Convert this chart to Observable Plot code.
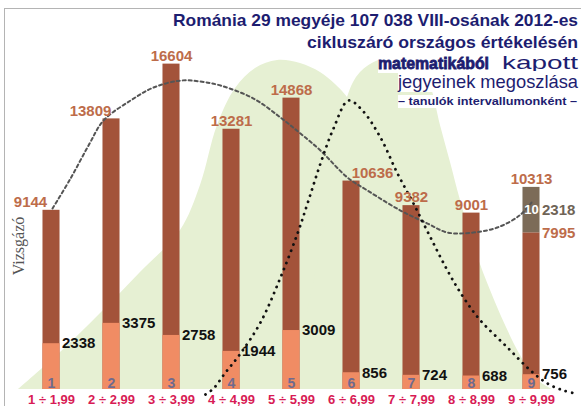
<!DOCTYPE html>
<html>
<head>
<meta charset="utf-8">
<script src="https://cdn.jsdelivr.net/npm/d3@7"></script>
<script src="https://cdn.jsdelivr.net/npm/@observablehq/plot@0.6"></script>
<style>
  html, body { margin: 0; padding: 0; background: #fff; }
  #wrap { position: relative; width: 581px; height: 406px; overflow: hidden; font-family: "Liberation Sans", Arial, sans-serif; }
  #frame { position: absolute; left: 4px; top: 8px; width: 600px; height: 420px; border-top: 1.5px solid #b4b4b4; border-left: 1.5px solid #b4b4b4; pointer-events: none; }
  .t { position: absolute; white-space: nowrap; color: #1d1d70; background: #fff; line-height: 1.15; transform-origin: 0 50%; }
  #ylab { position: absolute; left: 19px; top: 246px; transform: translate(-50%, -50%) rotate(-90deg); font-family: "Liberation Serif", "Times New Roman", serif; font-size: 16px; color: #555; white-space: nowrap; }
</style>
</head>
<body>
<div id="wrap">
  <div id="chart"></div>
  <div id="frame"></div>
  <div id="ylab">Vizsgázó</div>
  <div class="t" data-w="405" style="left:173px; top:10.5px; font-size:17px; font-weight:bold;">Románia 29 megyéje 107 038 VIII-osának 2012-es</div>
  <div class="t" data-w="271" style="left:307px; top:32.5px; font-size:17px; font-weight:bold;">cikluszáró országos értékelésén</div>
  <div class="t" data-w="111" style="left:378px; top:53.5px; font-size:17px; font-weight:900; -webkit-text-stroke:0.8px #1d1d70;">matematikából</div>
  <div class="t" data-w="76" style="left:502px; top:52px; font-size:18.5px;">kapott</div>
  <div class="t" data-w="180" style="left:398px; top:71px; font-size:18.5px;">jegyeinek megoszlása</div>
  <div class="t" data-w="179" style="left:398px; top:95px; font-size:11px; font-weight:bold;">– tanulók intervallumonként –</div>
</div>
<script>
// ---- data ----
const intervals = ["1 ÷ 1,99", "2 ÷ 2,99", "3 ÷ 3,99", "4 ÷ 4,99", "5 ÷ 5,99", "6 ÷ 6,99", "7 ÷ 7,99", "8 ÷ 8,99", "9 ÷ 9,99"];
const barNumbers = ["1", "2", "3", "4", "5", "6", "7", "8", "9"];
const totals = [9144, 13809, 16604, 13281, 14868, 10636, 9382, 9001, 10313];
const lowerValues = [2338, 3375, 2758, 1944, 3009, 856, 724, 688, 756];
const tenValues = [0, 0, 0, 0, 0, 0, 0, 0, 2318];
const tenLabel = "10";

// trend (dashed) curve: [position, value]
const trendX = [1.017, 1.317, 1.617, 1.867, 2.317, 2.70, 3.15, 3.483, 3.817, 4.367, 4.817, 5.15, 5.483, 5.933, 6.267, 6.817, 7.267, 7.60, 8.03, 8.43, 8.80, 9.0];
const trendY = [9235, 10765, 12449, 13724, 14745, 15408, 15765, 15714, 15510, 14847, 13878, 13061, 12194, 10816, 10153, 9133, 8469, 8010, 8010, 8265, 8878, 9540];

// dotted curve
const dotX = [3.567, 3.70, 3.90, 4.15, 4.483, 4.817, 5.10, 5.283, 5.483, 5.70, 5.95, 6.183, 6.483, 6.767, 7.033, 7.317, 7.60, 7.867, 8.15, 8.60, 8.983, 9.267, 9.533, 9.733];
const dotY = [-255, 51, 867, 1837, 3418, 5714, 7959, 9643, 11531, 13316, 14745, 14235, 12857, 11020, 9490, 7755, 6071, 4694, 3520, 2143, 969, 306, -51, -204];

// background green humps
const humpAX = [0.45, 1.15, 1.817, 2.483, 3.15, 3.483, 3.767, 4.067, 4.40, 4.767, 5.15, 5.483, 5.733, 5.933, 6.483, 7.15, 7.817, 8.483, 8.983];
const humpAY = [0, 1888, 3878, 5969, 8112, 10408, 13469, 15357, 16378, 16786, 16633, 16173, 15561, 14898, 12194, 7092, 3010, 459, 0];
const humpBX = [4.983, 5.483, 5.933, 6.15, 6.45, 6.817, 7.117, 7.317, 7.483, 7.65, 7.817, 8.067, 8.317, 8.567, 8.817, 9.067, 9.35];
const humpBY = [0, 7092, 14898, 16173, 16786, 17041, 16684, 15510, 13469, 11582, 9643, 7092, 5051, 3265, 1735, 561, 0];

// ---- tables ----
const bars = intervals.map((c, i) => ({
  pos: i + 1, label: c, num: barNumbers[i], total: totals[i], lower: lowerValues[i],
  ten: tenValues[i], mainTop: totals[i] - tenValues[i]
}));
const trend = trendX.map((x, i) => ({x, y: trendY[i]}));
const dots = dotX.map((x, i) => ({x, y: dotY[i]}));
const humpA = humpAX.map((x, i) => ({x, y: humpAY[i]}));
const humpB = humpBX.map((x, i) => ({x, y: humpBY[i]}));
const tenBars = bars.filter(d => d.ten > 0);

const hw = 0.142; // half bar width in position units
const brown = "#a3533a", orange = "#f08c64", grayTop = "#7c6b58", green = "#e6f0d3";
const topColor = "#bd6c4a";
const F = "Liberation Sans, Arial, sans-serif";

const chart = Plot.plot({
  width: 581, height: 406,
  marginLeft: 21, marginRight: 20, marginTop: 0, marginBottom: 17,
  x: {domain: [0.5, 9.5], axis: null},
  y: {domain: [0, 19850], axis: null},
  style: {fontFamily: F, background: "transparent", overflow: "visible"},
  marks: [
    Plot.areaY(humpA, {x: "x", y: "y", fill: green, curve: "catmull-rom"}),
    Plot.areaY(humpB, {x: "x", y: "y", fill: green, curve: "catmull-rom"}),
    Plot.rectY(bars, {x1: d => d.pos - hw, x2: d => d.pos + hw, y1: 0, y2: "mainTop", fill: brown}),
    Plot.rectY(bars, {x1: d => d.pos - hw, x2: d => d.pos + hw, y1: 0, y2: "lower", fill: orange}),
    Plot.rectY(tenBars, {x1: d => d.pos - hw, x2: d => d.pos + hw, y1: "mainTop", y2: "total", fill: grayTop}),
    Plot.line(trend, {x: "x", y: "y", curve: "catmull-rom", stroke: "#555", strokeWidth: 2, strokeDasharray: "3,3"}),
    Plot.line(dots, {x: "x", y: "y", curve: "catmull-rom", stroke: "#111", strokeWidth: 2.8, strokeDasharray: "0.1,6.4", strokeLinecap: "round"}),
    // top value labels
    Plot.text(bars.filter(d => d.pos <= 2), {x: "pos", y: "total", text: d => String(d.total), dx: -21, dy: -8, fill: topColor, fontSize: 15, fontWeight: "bold", lineAnchor: "middle"}),
    Plot.text(bars.filter(d => d.pos >= 3 && d.pos !== 6), {x: "pos", y: "total", text: d => String(d.total), dy: -8, fill: topColor, fontSize: 15, fontWeight: "bold", lineAnchor: "middle"}),
    Plot.text(bars.filter(d => d.pos === 6), {x: "pos", y: "total", text: d => String(d.total), dx: 21, dy: -8, fill: topColor, fontSize: 15, fontWeight: "bold", lineAnchor: "middle"}),
    // lower segment labels
    Plot.text(bars, {x: d => d.pos + hw, y: "lower", text: d => String(d.lower), dx: 2, textAnchor: "start", lineAnchor: "middle", fill: "#111", fontSize: 15, fontWeight: "bold"}),
    // grade-10 segment labels
    Plot.text(tenBars, {x: d => d.pos + hw, y: d => d.mainTop + d.ten / 2, text: d => String(d.ten), dx: 2, textAnchor: "start", lineAnchor: "middle", fill: "#6f6457", fontSize: 15, fontWeight: "bold"}),
    Plot.text(tenBars, {x: d => d.pos + hw, y: "mainTop", text: d => String(d.mainTop), dx: 2, textAnchor: "start", lineAnchor: "middle", fill: topColor, fontSize: 15, fontWeight: "bold"}),
    Plot.text(tenBars, {x: "pos", y: d => d.mainTop + d.ten / 2, text: () => tenLabel, fill: "#fff", fontSize: 13, fontWeight: "bold", lineAnchor: "middle"}),
    // numbers inside bars
    Plot.text(bars, {x: "pos", y: 0, text: "num", dy: -6, lineAnchor: "middle", fill: "#6f6a8f", fontSize: 14, fontWeight: "bold"}),
    // interval labels
    Plot.text(bars, {x: "pos", y: 0, text: "label", dy: 10, lineAnchor: "middle", fill: "#d81b55", fontSize: 13, fontWeight: "bold"})
  ]
});
document.getElementById("chart").appendChild(chart);

// fit title lines horizontally to the widths seen in the reference
document.querySelectorAll(".t").forEach(el => {
  const target = +el.dataset.w;
  const w = el.getBoundingClientRect().width;
  if (w > 0) el.style.transform = `scaleX(${target / w})`;
});
</script>
</body>
</html>
